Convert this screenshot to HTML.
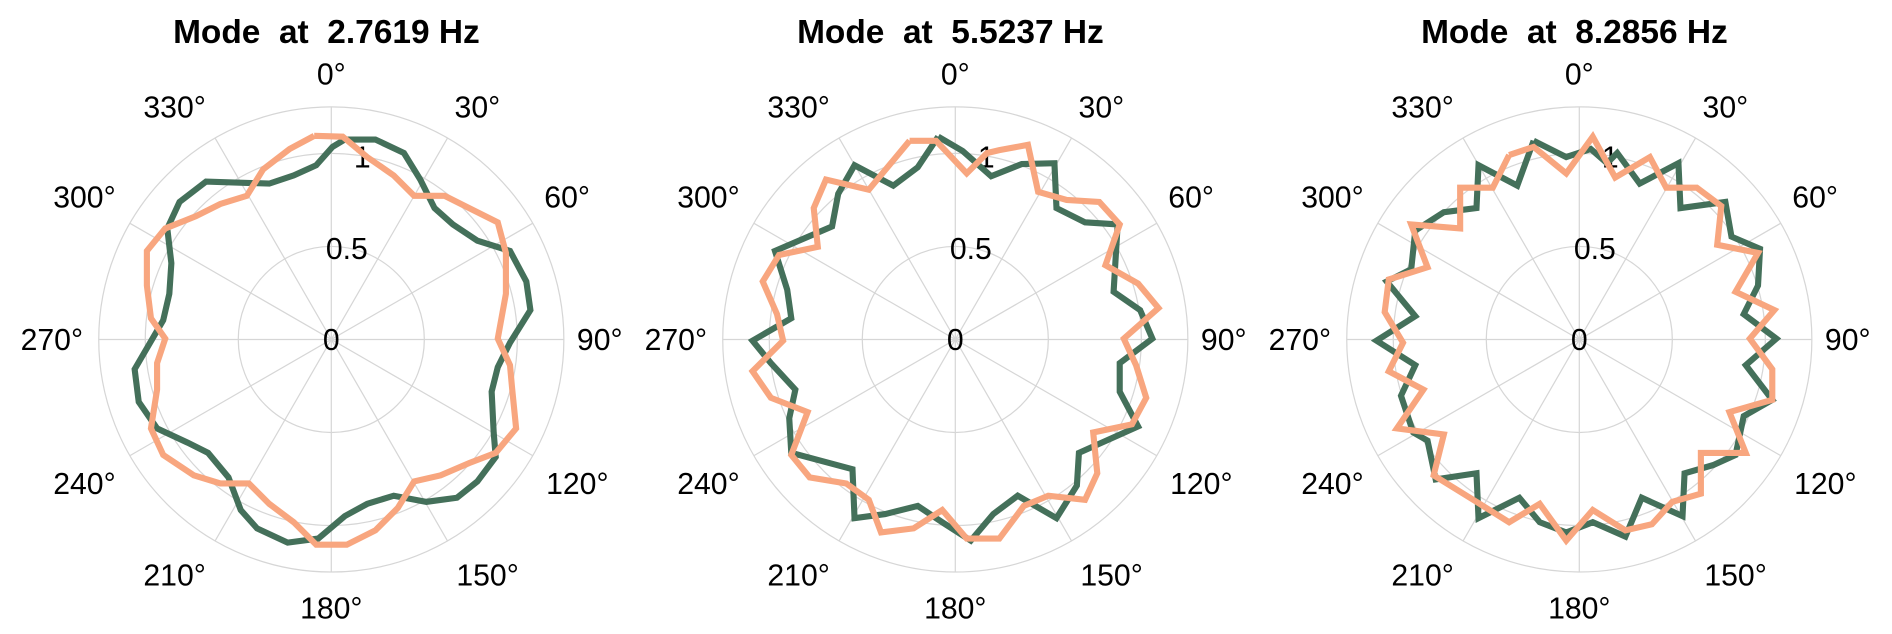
<!DOCTYPE html>
<html><head><meta charset="utf-8"><style>
html,body{margin:0;padding:0;background:#fff;}
svg{display:block;}
text{font-family:"Liberation Sans",Arial,sans-serif;white-space:pre;}
</style></head><body>
<svg width="1892" height="634" viewBox="0 0 1892 634" xmlns="http://www.w3.org/2000/svg">
<defs>
<g id="grid">
<g fill="none" stroke="#d6d6d6" stroke-width="3">
<circle cx="812" cy="832" r="228"/>
<circle cx="812" cy="832" r="456"/>
<circle cx="812" cy="832" r="570"/>
<line x1="812" y1="262" x2="812" y2="1402"/>
<line x1="242" y1="832" x2="1382" y2="832"/>
<line x1="527" y1="338" x2="1097" y2="1326"/>
<line x1="1097" y1="338" x2="527" y2="1326"/>
<line x1="318" y1="547" x2="1306" y2="1117"/>
<line x1="1306" y1="547" x2="318" y2="1117"/>
</g>
<g font-size="74" fill="#000" text-anchor="middle">
<text x="812" y="207">0°</text>
<text x="1170" y="288">30°</text>
<text x="1390" y="508">60°</text>
<text x="1470" y="858">90°</text>
<text x="1415" y="1211">120°</text>
<text x="1195" y="1435">150°</text>
<text x="812" y="1516">180°</text>
<text x="428" y="1435">210°</text>
<text x="207" y="1211">240°</text>
<text x="127" y="858">270°</text>
<text x="207" y="508">300°</text>
<text x="428" y="288">330°</text>
<text x="812" y="858">0</text>
<text x="850" y="635">0.5</text>
<text x="888" y="411">1</text>
</g>
</g>
</defs>

<g transform="scale(0.408)">
<use href="#grid"/>
<text x="800" y="105" font-size="82" font-weight="bold" text-anchor="middle" xml:space="preserve">Mode  at  2.7619 Hz</text>
<g fill="none" stroke-width="15" stroke-linejoin="miter">
<polyline stroke="#44705a" points="845,342 920,342 990,375 1030,440 1065,510 1110,550 1170,590 1250,615 1290,690 1300,760 1250,840 1220,900 1205,960 1210,1060 1215,1120 1170,1180 1120,1220 1045,1230 965,1215 900,1235 845,1265 780,1320 705,1330 630,1295 590,1250 560,1170 510,1110 460,1085 385,1050 340,985 330,905 400,785 415,720 420,645 410,560 440,495 505,445 660,450 720,430 775,405 815,360 845,342"/>
<polyline stroke="#f8a67f" points="770,333 840,335 900,385 965,430 1015,480 1090,480 1150,510 1220,545 1240,620 1240,720 1220,830 1250,895 1255,950 1265,1050 1215,1110 1150,1135 1080,1165 1015,1180 975,1245 920,1300 850,1335 775,1335 720,1280 660,1235 610,1185 540,1185 475,1165 400,1115 370,1050 385,955 385,890 405,830 370,780 360,700 360,615 405,560 480,530 540,500 605,480 645,415 710,365 770,333"/>
</g>
</g>

<g transform="translate(624,0) scale(0.408)">
<use href="#grid"/>
<text x="800" y="105" font-size="82" font-weight="bold" text-anchor="middle" xml:space="preserve">Mode  at  5.5237 Hz</text>
<g fill="none" stroke-width="15">
<polyline stroke="#44705a" points="770,335 830,370 900,432 975,402 1055,400 1060,510 1130,545 1210,550 1200,715 1265,760 1295,830 1215,890 1215,960 1260,1045 1115,1110 1110,1190 1060,1270 965,1215 905,1260 850,1325 780,1280 720,1240 640,1260 565,1270 560,1150 410,1110 405,1025 420,955 360,890 315,835 410,780 400,710 370,615 510,555 525,475 565,405 660,455 720,410 770,335"/>
<polyline stroke="#f8a67f" points="700,345 765,345 840,425 890,375 920,368 990,355 1015,470 1085,490 1165,495 1215,550 1180,650 1260,695 1310,755 1225,830 1255,895 1280,975 1245,1040 1150,1060 1160,1160 1130,1225 1040,1215 980,1240 920,1320 840,1320 780,1250 710,1295 630,1305 600,1225 545,1185 455,1170 410,1115 450,1010 360,975 315,910 390,835 375,770 340,690 380,625 475,605 465,510 495,440 600,465 700,345"/>
</g>
</g>

<g transform="translate(1248,0) scale(0.408)">
<use href="#grid"/>
<text x="800" y="105" font-size="82" font-weight="bold" text-anchor="middle" xml:space="preserve">Mode  at  8.2856 Hz</text>
<g fill="none" stroke-width="15">
<polyline stroke="#44705a" points="700,345 780,385 840,365 880,400 905,375 960,450 1055,400 1060,510 1170,495 1185,580 1255,610 1250,700 1215,770 1295,830 1220,895 1285,980 1215,1020 1195,1115 1140,1140 1070,1160 1065,1265 965,1220 925,1315 845,1280 780,1305 715,1280 665,1220 565,1270 560,1160 460,1175 440,1080 405,1060 375,970 410,895 315,835 410,775 340,690 400,660 410,565 480,520 560,510 565,405 660,455 700,345"/>
<polyline stroke="#f8a67f" points="640,380 700,360 780,425 845,335 900,435 985,385 1025,460 1100,460 1160,505 1150,600 1250,620 1195,715 1290,760 1230,830 1285,905 1285,980 1180,1010 1220,1110 1110,1110 1110,1210 1040,1230 990,1285 925,1300 845,1250 780,1325 715,1235 640,1280 560,1230 455,1165 480,1065 365,1050 430,955 345,910 380,840 335,765 345,685 440,655 400,550 520,560 520,460 600,460 640,380"/>
</g>
</g>
</svg>
</body></html>
